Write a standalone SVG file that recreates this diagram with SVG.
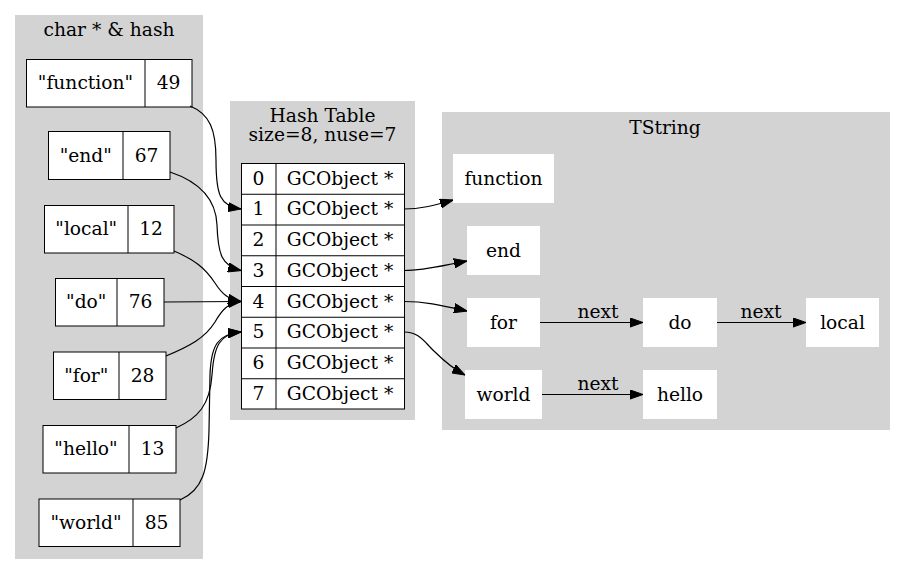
<svg xmlns="http://www.w3.org/2000/svg" width="905" height="575" viewBox="0 0 905 575">
<style>
text{font-family:"DejaVu Serif","Liberation Serif",serif;font-size:18.67px;fill:#000;text-anchor:middle}
.cl{fill:#d3d3d3;stroke:none}
.rec{fill:#fff;stroke:#000;stroke-width:1}
.div{stroke:#000;stroke-width:1}
.wn{fill:#fff;stroke:none}
.e{fill:none;stroke:#000;stroke-width:1.2;marker-end:url(#arr)}
</style>
<defs>
<marker id="arr" viewBox="0 0 13 10" refX="13" refY="5" markerWidth="13" markerHeight="10" markerUnits="userSpaceOnUse" orient="auto">
<path d="M0,0.4 L13,5 L0,9.6 z" fill="#000" stroke="#000" stroke-width="1"/>
</marker>
</defs>
<rect width="905" height="575" fill="#fff"/>

<g id="cluster_chars">
<rect class="cl" x="15" y="15" width="188" height="544"/>
<text x="109" y="36">char * &amp; hash</text>
</g>
<g id="cluster_hash">
<rect class="cl" x="230" y="101" width="185" height="319"/>
<text x="322.5" y="122">Hash Table</text>
<text x="322.5" y="141">size=8, nuse=7</text>
</g>
<g id="cluster_tstring">
<rect class="cl" x="442" y="112" width="448" height="318"/>
<text x="665" y="134">TString</text>
</g>

<g id="rec_function">
<rect class="rec" x="26.5" y="59.5" width="165.5" height="47.5"/>
<line class="div" x1="145" y1="59.5" x2="145" y2="107"/>
<text x="85.5" y="89">"function"</text>
<text x="168.5" y="89">49</text>
</g>
<g id="rec_end">
<rect class="rec" x="48.5" y="131.5" width="121.5" height="48"/>
<line class="div" x1="123" y1="131.5" x2="123" y2="179.5"/>
<text x="85.75" y="161.5">"end"</text>
<text x="146.5" y="161.5">67</text>
</g>
<g id="rec_local">
<rect class="rec" x="44.5" y="205.5" width="129.5" height="47.5"/>
<line class="div" x1="128" y1="205.5" x2="128" y2="253"/>
<text x="86.25" y="235">"local"</text>
<text x="151" y="235">12</text>
</g>
<g id="rec_do">
<rect class="rec" x="55.5" y="278.5" width="108.5" height="47.5"/>
<line class="div" x1="117" y1="278.5" x2="117" y2="326"/>
<text x="86.25" y="308">"do"</text>
<text x="140.5" y="308">76</text>
</g>
<g id="rec_for">
<rect class="rec" x="53.5" y="352" width="112.5" height="47.5"/>
<line class="div" x1="119" y1="352" x2="119" y2="399.5"/>
<text x="86.25" y="381.5">"for"</text>
<text x="142.5" y="381.5">28</text>
</g>
<g id="rec_hello">
<rect class="rec" x="43" y="425.5" width="133" height="47.5"/>
<line class="div" x1="129" y1="425.5" x2="129" y2="473"/>
<text x="86" y="455">"hello"</text>
<text x="152.5" y="455">13</text>
</g>
<g id="rec_world">
<rect class="rec" x="39" y="499" width="141" height="47.5"/>
<line class="div" x1="133" y1="499" x2="133" y2="546.5"/>
<text x="86" y="529">"world"</text>
<text x="156.5" y="529">85</text>
</g>

<g id="hashtable">
<rect class="rec" x="241.5" y="163.5" width="163" height="245.5"/>
<line class="div" x1="276" y1="163.5" x2="276" y2="409"/>
<line class="div" x1="241.5" y1="194.25" x2="404.5" y2="194.25"/>
<line class="div" x1="241.5" y1="225" x2="404.5" y2="225"/>
<line class="div" x1="241.5" y1="255.75" x2="404.5" y2="255.75"/>
<line class="div" x1="241.5" y1="286.5" x2="404.5" y2="286.5"/>
<line class="div" x1="241.5" y1="317.25" x2="404.5" y2="317.25"/>
<line class="div" x1="241.5" y1="348" x2="404.5" y2="348"/>
<line class="div" x1="241.5" y1="378.75" x2="404.5" y2="378.75"/>
<text x="258.5" y="184.5">0</text><text x="340" y="184.5">GCObject *</text>
<text x="258.5" y="215.25">1</text><text x="340" y="215.25">GCObject *</text>
<text x="258.5" y="246">2</text><text x="340" y="246">GCObject *</text>
<text x="258.5" y="276.75">3</text><text x="340" y="276.75">GCObject *</text>
<text x="258.5" y="307.5">4</text><text x="340" y="307.5">GCObject *</text>
<text x="258.5" y="338.25">5</text><text x="340" y="338.25">GCObject *</text>
<text x="258.5" y="369">6</text><text x="340" y="369">GCObject *</text>
<text x="258.5" y="399.75">7</text><text x="340" y="399.75">GCObject *</text>
</g>

<g id="ts_function"><rect class="wn" x="453" y="154" width="101" height="49"/><text x="503.5" y="184.5">function</text></g>
<g id="ts_end"><rect class="wn" x="467" y="226" width="73" height="49"/><text x="503.5" y="256.5">end</text></g>
<g id="ts_for"><rect class="wn" x="467" y="298" width="73" height="49"/><text x="503.5" y="328.5">for</text></g>
<g id="ts_do"><rect class="wn" x="643" y="298" width="74" height="49"/><text x="680" y="328.5">do</text></g>
<g id="ts_local"><rect class="wn" x="806" y="298" width="73" height="49"/><text x="842.5" y="328.5">local</text></g>
<g id="ts_world"><rect class="wn" x="465" y="370" width="77" height="49"/><text x="503.5" y="400.5">world</text></g>
<g id="ts_hello"><rect class="wn" x="643" y="370" width="74" height="49"/><text x="680" y="400.5">hello</text></g>

<g id="connectors">
<path class="e" d="M190,106 C210,114 216,130 216,160 C216,195 220,206 241,209"/>
<path class="e" d="M170,172 C200,182 216,200 217,225 C218,255 222,266 241,270.5"/>
<path class="e" d="M174,251 C195,260 205,268 215,283 C222,294 228,299 241,301.5"/>
<path class="e" d="M164,302 L241,301.5"/>
<path class="e" d="M166,356 C190,346 205,338 215,322 C222,310 228,303 241,301.5"/>
<path class="e" d="M176,428 C198,418 210,405 212,375 C214,345 220,334 241,332"/>
<path class="e" d="M180,500 C203,490 208,470 209,430 L210,375 C211,345 218,334 241,332"/>
<path class="e" d="M404,209 C420,209 432,206 453,200"/>
<path class="e" d="M404,270.5 C425,270.5 440,266 467,261"/>
<path class="e" d="M404,301.5 C425,301.5 440,305 467,311"/>
<path class="e" d="M404,332 C420,332 425,343 435,352 C443,360 452,368 465,375"/>
<path class="e" d="M540,322.5 L643,322.5"/>
<text x="598" y="318">next</text>
<path class="e" d="M717,322.5 L806,322.5"/>
<text x="761" y="318">next</text>
<path class="e" d="M542,394.5 L643,394.5"/>
<text x="598" y="390">next</text>
</g>
</svg>
